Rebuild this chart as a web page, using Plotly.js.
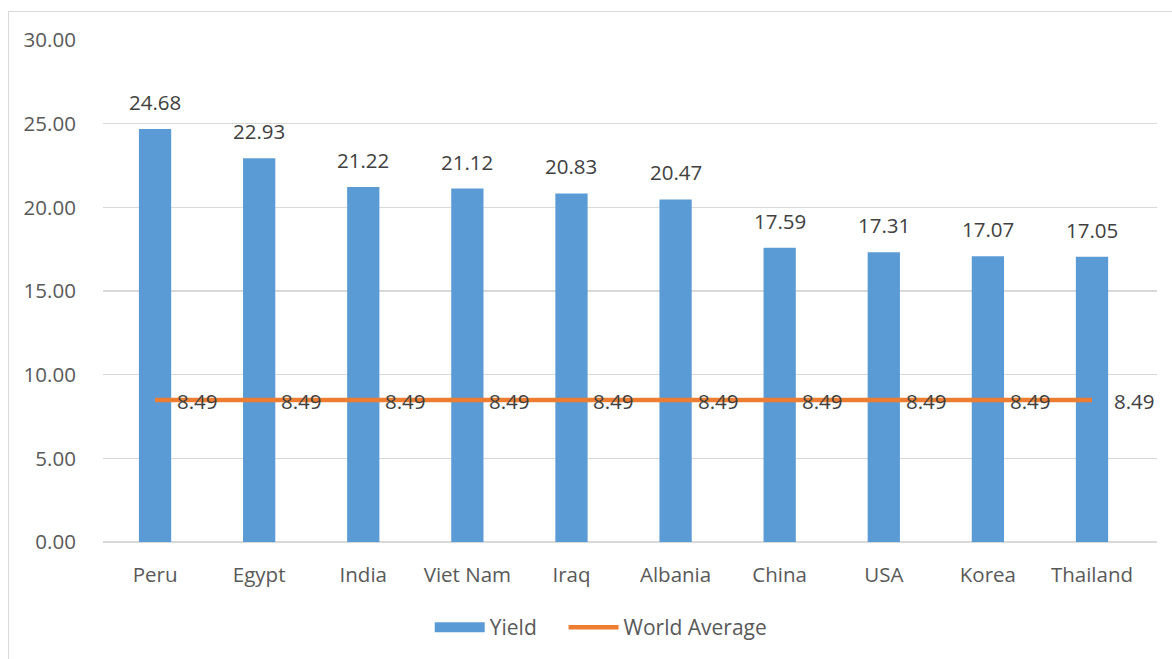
<!DOCTYPE html>
<html>
<head>
<meta charset="utf-8">
<script src="https://cdn.plot.ly/plotly-3.0.1.min.js"></script>
<style>
html,body{margin:0;padding:0;background:#fff;overflow:hidden;}
#chart{width:1172px;height:659px;position:absolute;left:0;top:0;}
#frame{position:absolute;left:8px;top:11px;width:1200px;height:700px;border-left:1.5px solid #D9D9D9;border-top:1.5px solid #D9D9D9;pointer-events:none;}
</style>
</head>
<body>
<div id="chart"></div>
<div id="frame"></div>
<script>
const categories = ["Peru","Egypt","India","Viet Nam","Iraq","Albania","China","USA","Korea","Thailand"];
const yieldValues = [24.68,22.93,21.22,21.12,20.83,20.47,17.59,17.31,17.07,17.05];
const worldAverage = [8.49,8.49,8.49,8.49,8.49,8.49,8.49,8.49,8.49,8.49];
const yTicks = [0,5,10,15,20,25,30];

const FONT = "Open Sans, Liberation Sans, sans-serif";
const BLUE = "#5B9BD5", ORANGE = "#ED7D31";

const barTrace = {
  type: "bar", name: "Yield", x: categories, y: yieldValues,
  marker: {color: BLUE}, width: 0.31, showlegend: false
};
const lineTrace = {
  type: "scatter", mode: "lines", name: "World Average", x: categories, y: worldAverage,
  line: {color: ORANGE, width: 4.5}, showlegend: false
};
// legend-only keys (no data drawn)
const yieldKey = {type: "scatter", mode: "lines", name: "Yield&nbsp;&nbsp;&nbsp;&nbsp;", x: [null], y: [null],
  line: {color: BLUE, width: 14}, showlegend: true};
const avgKey = {type: "scatter", mode: "lines", name: "World Average", x: [null], y: [null],
  line: {color: ORANGE, width: 4.5}, showlegend: true};

const annotations = [];
categories.forEach((c, i) => {
  annotations.push({x: c, y: yieldValues[i], xref: "x", yref: "y", text: yieldValues[i].toFixed(2),
    showarrow: false, yanchor: "bottom", yshift: 11, font: {family: FONT, size: 20.5, color: "#404040"}});
  annotations.push({x: c, y: worldAverage[i], xref: "x", yref: "y", text: worldAverage[i].toFixed(2),
    showarrow: false, xanchor: "left", xshift: 20, yshift: -1, font: {family: FONT, size: 20.5, color: "#404040"}});
});

const layout = {
  width: 1172, height: 659,
  margin: {l: 103, r: 15, t: 40, b: 116, pad: 0},
  paper_bgcolor: "#ffffff", plot_bgcolor: "#ffffff",
  showlegend: true,
  legend: {orientation: "h", x: 0.31, xanchor: "left", y: -0.168, yanchor: "middle",
    font: {family: FONT, size: 21, color: "#595959"}, traceorder: "normal", itemwidth: 50, tracegroupgap: 0},
  xaxis: {type: "category", tickfont: {family: FONT, size: 20.5, color: "#595959"},
    showgrid: false, showline: false, ticks: "outside", ticklen: 14, tickcolor: "rgba(0,0,0,0)", fixedrange: true},
  yaxis: {range: [0, 30], tickvals: yTicks, ticktext: yTicks.map(v => v.toFixed(2)),
    tickfont: {family: FONT, size: 20.5, color: "#595959"}, showgrid: true, gridcolor: "#D9D9D9", gridwidth: 1.5,
    zeroline: true, zerolinecolor: "#D9D9D9", zerolinewidth: 1.5, showline: false, ticks: "outside", ticklen: 22, tickcolor: "rgba(0,0,0,0)", fixedrange: true},
  annotations: annotations,
  bargap: 0.69
};

Plotly.newPlot("chart", [barTrace, lineTrace, yieldKey, avgKey], layout, {displayModeBar: false, staticPlot: true});
</script>
</body>
</html>
